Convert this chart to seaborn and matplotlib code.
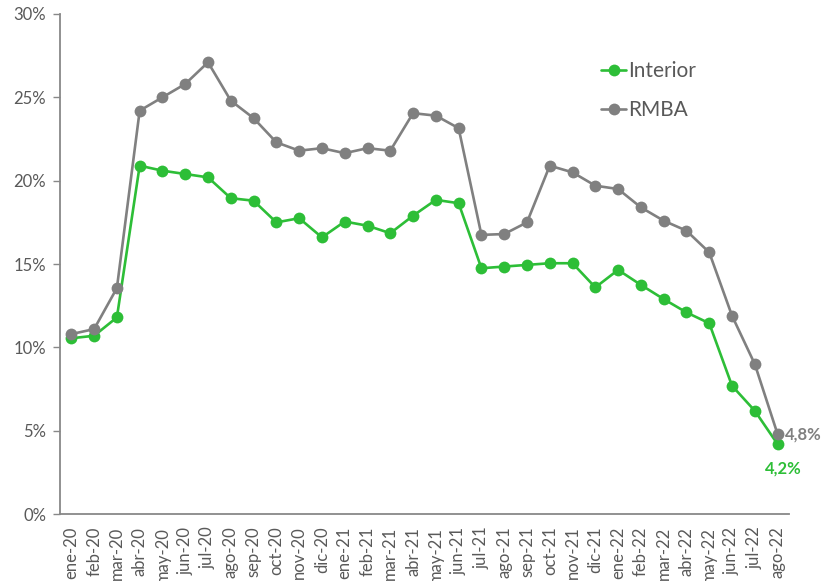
import pandas as pd
import matplotlib.pyplot as plt
import seaborn as sns

meses = ["ene-20", "feb-20", "mar-20", "abr-20", "may-20", "jun-20", "jul-20", "ago-20",
         "sep-20", "oct-20", "nov-20", "dic-20", "ene-21", "feb-21", "mar-21", "abr-21",
         "may-21", "jun-21", "jul-21", "ago-21", "sep-21", "oct-21", "nov-21", "dic-21",
         "ene-22", "feb-22", "mar-22", "abr-22", "may-22", "jun-22", "jul-22", "ago-22"]

interior = [10.55, 10.7, 11.8, 20.9, 20.6, 20.4, 20.2, 18.95, 18.8, 17.5, 17.75, 16.6,
            17.55, 17.3, 16.85, 17.9, 18.85, 18.65, 14.75, 14.85, 14.95, 15.05, 15.05, 13.6,
            14.65, 13.75, 12.9, 12.1, 11.45, 7.7, 6.2, 4.2]

rmba = [10.8, 11.1, 13.56, 24.2, 25.0, 25.8, 27.1, 24.8, 23.75, 22.3, 21.8, 21.95,
        21.65, 21.95, 21.8, 24.05, 23.9, 23.15, 16.75, 16.8, 17.5, 20.9, 20.5, 19.7,
        19.5, 18.4, 17.6, 17.0, 15.7, 11.9, 9.0, 4.8]

series = ["Interior", "RMBA"]
colores = {"Interior": "#2DBE37", "RMBA": "#808080"}

df = pd.concat([
    pd.DataFrame({"mes": meses, "valor": interior, "serie": "Interior"}),
    pd.DataFrame({"mes": meses, "valor": rmba, "serie": "RMBA"}),
])
df["pos"] = df["mes"].map({m: i for i, m in enumerate(meses)})

sns.set_style("white")
plt.rcParams["font.family"] = ["Lato", "DejaVu Sans"]
texto = "#595959"

fig, ax = plt.subplots(figsize=(8.21, 5.81), dpi=100)
fig.subplots_adjust(left=0.073, right=0.961, top=0.976, bottom=0.115)

sns.lineplot(data=df, x="pos", y="valor", hue="serie", hue_order=series,
             palette=colores, marker="o", markersize=8.5, markeredgewidth=0,
             linewidth=1.9, ax=ax)

ax.set_xlim(-0.5, len(meses) - 0.5)
ax.set_ylim(0, 30)
ax.set_yticks(range(0, 31, 5))
ax.set_yticklabels([f"{v}%" for v in range(0, 31, 5)])
ax.set_xticks(range(len(meses)))
ax.set_xticklabels(meses, rotation=90)
ax.set_xticks([i - 0.5 for i in range(len(meses) + 1)], minor=True)
ax.tick_params(axis="x", which="major", length=0, pad=9, labelsize=12, labelcolor=texto)
ax.tick_params(axis="x", which="minor", length=5, width=1, color="#888888", direction="out")
ax.tick_params(axis="y", length=5, width=1, color="#888888", direction="out", pad=5,
               labelsize=12, labelcolor=texto, left=True)
ax.set_xlabel("")
ax.set_ylabel("")

for lado in ["top", "right"]:
    ax.spines[lado].set_visible(False)
for lado in ["left", "bottom"]:
    ax.spines[lado].set_color("#888888")
    ax.spines[lado].set_linewidth(1.3)

# etiquetas del ultimo dato
ultimo = len(meses) - 1
ax.annotate(f"{rmba[-1]:.1f}%".replace(".", ","), (ultimo, rmba[-1]),
            xytext=(5, 0), textcoords="offset points", va="center", ha="left",
            color="#808080", fontsize=12, fontweight="bold", annotation_clip=False)
ax.annotate(f"{interior[-1]:.1f}%".replace(".", ","), (ultimo, interior[-1]),
            xytext=(4, -12), textcoords="offset points", va="top", ha="center",
            color=colores["Interior"], fontsize=12, fontweight="bold", annotation_clip=False)

leg = ax.legend(loc="upper left", bbox_to_anchor=(0.722, 0.909), bbox_transform=fig.transFigure,
                frameon=False, fontsize=15, handlelength=1.2, handletextpad=0.1,
                labelspacing=0.9, borderaxespad=0)
for t in leg.get_texts():
    t.set_color(texto)

plt.savefig("out.png", dpi=100)
